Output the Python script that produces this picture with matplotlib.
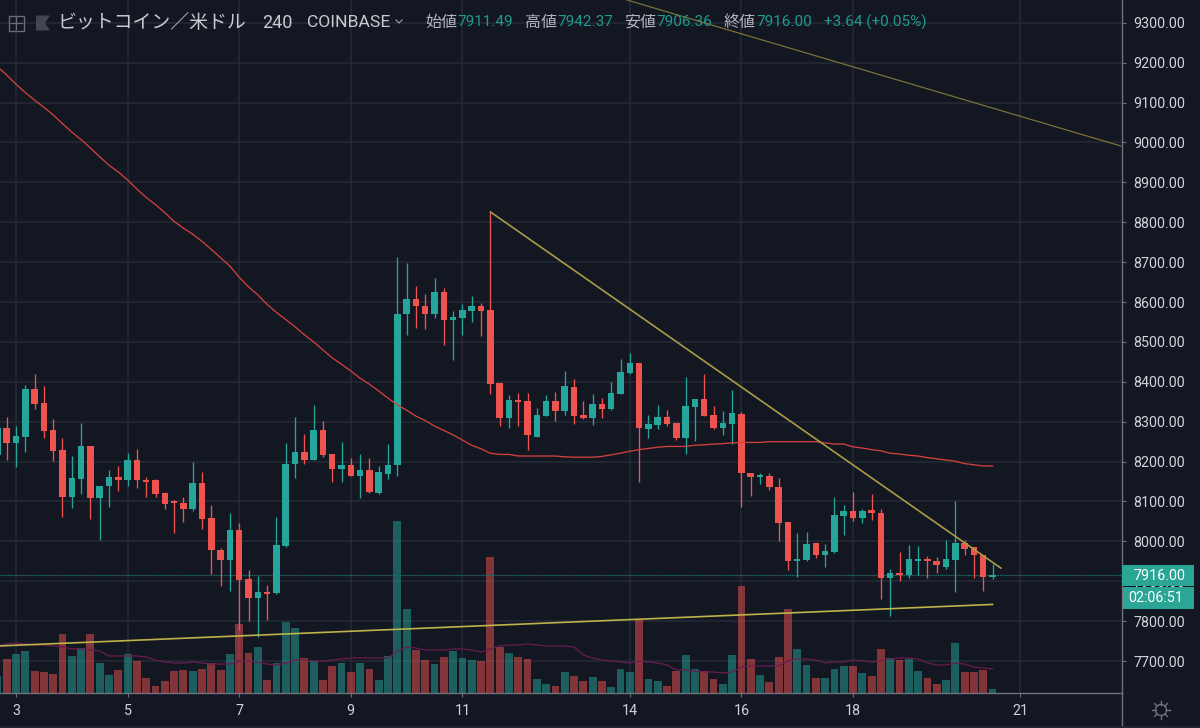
"""
BTC/USD 4h candle chart, dark TradingView style.
"""
import numpy as np
import matplotlib
matplotlib.use("Agg")
import matplotlib.pyplot as plt
from matplotlib.lines import Line2D
from matplotlib.patches import Rectangle

opens = [8216, 8283, 8247, 8262, 8382, 8346, 8280, 8229, 8112, 8157, 8240, 8109,
         8138, 8162, 8153, 8204, 8155, 8153, 8122, 8099, 8095, 8081, 8147, 8059,
         7978, 7954, 8029, 7905, 7858, 7872, 7870, 7988, 8193, 8225, 8205, 8280,
         8219, 8181, 8192, 8165, 8180, 8122, 8170, 8191, 8569, 8607, 8591, 8569,
         8625, 8554, 8560, 8578, 8589, 8581, 8396, 8309, 8354, 8351, 8262, 8315,
         8351, 8328, 8387, 8318, 8309, 8345, 8333, 8369, 8421, 8448, 8282, 8291,
         8312, 8297, 8258, 8337, 8357, 8318, 8285, 8293, 8320, 8172, 8161, 8165,
         8136, 8048, 7950, 7953, 7997, 7967, 7973, 8064, 8076, 8058, 8078, 8072,
         7907, 7922, 7916, 7952, 7955, 7952, 7937, 7953, 7997, 7985, 7967, 7911.49]
highs = [8290, 8311, 8289, 8392, 8419, 8389, 8306, 8258, 8214, 8296, 8240, 8138,
         8180, 8188, 8222, 8231, 8162, 8156, 8123, 8105, 8111, 8198, 8174, 8092,
         7984, 8071, 8045, 7929, 7914, 7890, 8060, 8246, 8311, 8270, 8343, 8301,
         8219, 8250, 8210, 8219, 8210, 8188, 8243, 8712, 8698, 8640, 8619, 8661,
         8634, 8577, 8596, 8616, 8598, 8826, 8396, 8366, 8373, 8373, 8335, 8366,
         8375, 8426, 8408, 8351, 8369, 8360, 8399, 8456, 8471, 8448, 8318, 8342,
         8330, 8297, 8411, 8358, 8420, 8339, 8327, 8380, 8324, 8172, 8172, 8171,
         8160, 8048, 8021, 8023, 7997, 7994, 8112, 8092, 8124, 8081, 8118, 8081,
         7930, 7973, 7991, 7988, 7964, 7960, 8003, 8100, 8003, 7985, 7967, 7942.37]
lows = [8205, 8205, 8187, 8225, 8331, 8259, 8202, 8060, 8084, 8120, 8055, 8003,
        8086, 8127, 8138, 8135, 8112, 8112, 8081, 8021, 8048, 8075, 8030, 7918,
        7888, 7876, 7779, 7801, 7761, 7802, 7869, 7987, 8159, 8195, 8204, 8211,
        8150, 8150, 8163, 8108, 8122, 8120, 8156, 8163, 8517, 8535, 8532, 8560,
        8493, 8454, 8517, 8550, 8515, 8369, 8288, 8285, 8288, 8228, 8261, 8314,
        8303, 8318, 8293, 8306, 8291, 8309, 8330, 8369, 8420, 8149, 8258, 8282,
        8288, 8253, 8219, 8252, 8314, 8282, 8267, 8243, 8085, 8115, 8145, 8128,
        8001, 7929, 7910, 7952, 7958, 7937, 7972, 8016, 8051, 8046, 8054, 7855,
        7813, 7901, 7909, 7915, 7909, 7921, 7931, 7874, 7967, 7907, 7876, 7906.36]
closes = [8283, 8247, 8265, 8382, 8344, 8277, 8226, 8112, 8159, 8240, 8109, 8138,
          8162, 8153, 8204, 8153, 8150, 8120, 8093, 8097, 8081, 8147, 8057, 7979,
          7954, 8029, 7904, 7858, 7872, 7867, 7990, 8195, 8225, 8205, 8280, 8216,
          8181, 8192, 8165, 8180, 8123, 8174, 8192, 8569, 8607, 8590, 8569, 8625,
          8554, 8562, 8580, 8589, 8578, 8394, 8309, 8354, 8349, 8267, 8318, 8351,
          8328, 8390, 8315, 8309, 8345, 8333, 8372, 8424, 8448, 8283, 8293, 8312,
          8293, 8258, 8339, 8357, 8315, 8285, 8297, 8321, 8171, 8161, 8166, 8136,
          8046, 7950, 7955, 7994, 7967, 7975, 8067, 8076, 8058, 8076, 8070, 7907,
          7922, 7916, 7955, 7955, 7950, 7940, 7955, 7997, 7982, 7965, 7910, 7916.00]
volumes = [17, 34, 39, 42, 22, 21, 19, 59, 37, 45, 59, 30, 18, 23, 39, 32, 15, 7,
           12, 22, 23, 22, 24, 30, 23, 39, 69, 40, 46, 13, 30, 71, 65, 35, 32, 13,
           27, 30, 21, 30, 24, 13, 37, 172, 84, 43, 33, 29, 36, 42, 35, 33, 32, 136,
           46, 40, 36, 34, 14, 9, 7, 21, 17, 12, 16, 12, 6, 24, 21, 74, 14, 12,
           7, 22, 38, 24, 22, 14, 9, 38, 107, 34, 18, 11, 36, 84, 44, 28, 15, 15,
           24, 27, 27, 20, 17, 44, 35, 33, 34, 22, 15, 9, 13, 50, 21, 21, 23, 4]
volume_ma = [47, 49, 50, 49, 48, 48, 47, 46, 44, 44, 43, 42, 37, 37, 37, 37, 36, 33,
             31, 30, 30, 31, 30, 29, 29, 29, 32, 32, 31, 29, 28, 30, 33, 33, 32, 32,
             33, 34, 35, 35, 35, 35, 35, 42, 46, 45, 43, 43, 43, 44, 44, 43, 41, 44,
             47, 48, 48, 49, 48, 47, 47, 47, 46, 38, 35, 33, 32, 31, 30, 32, 31, 30,
             28, 23, 23, 22, 21, 21, 20, 21, 26, 27, 27, 27, 27, 32, 34, 34, 33, 30,
             31, 31, 33, 32, 31, 32, 34, 35, 35, 34, 30, 28, 28, 30, 29, 26, 25, 24]
price_ma = [9190, 9169, 9146, 9125, 9106, 9088, 9069, 9047, 9026, 9007, 8986, 8964,
            8943, 8926, 8906, 8883, 8862, 8844, 8824, 8802, 8785, 8770, 8752, 8732,
            8711, 8690, 8662, 8638, 8618, 8594, 8574, 8556, 8538, 8518, 8500, 8480,
            8460, 8444, 8427, 8409, 8394, 8377, 8359, 8342, 8329, 8314, 8303, 8289,
            8278, 8267, 8254, 8241, 8232, 8221, 8218, 8218, 8214, 8214, 8214, 8214,
            8214, 8212, 8211, 8211, 8211, 8213, 8217, 8221, 8226, 8230, 8233, 8236,
            8238, 8238, 8238, 8241, 8242, 8244, 8245, 8247, 8248, 8248, 8248, 8250,
            8250, 8250, 8250, 8250, 8250, 8247, 8244, 8244, 8237, 8234, 8230, 8227,
            8221, 8219, 8216, 8214, 8210, 8207, 8204, 8201, 8195, 8192, 8189, 8189]
bar_index = np.arange(-2, 106)

x_ticks = [0, 12, 24, 36, 48, 66, 78, 90, 108]
x_labels = ["3", "5", "7", "9", "11", "14", "16", "18", "21"]
y_ticks = list(range(7700, 9400, 100))

falling_line = ([51, 105.9], [8826, 7933])
support_line = ([-1.72, 105], [7738, 7842])
upper_line = ([65.7, 118.8], [9357, 8991])
last_price = 7916.00

BG = "#131722"
GRID = "#262a36"
UP = "#26a69a"
DOWN = "#ef5350"
AXIS = "#6f727c"
LABEL = "#d1d4dc"

W, H = 1200, 728
AX_RIGHT, AX_BOTTOM = 1122, 693
pos = [0, (H - AX_BOTTOM) / H, AX_RIGHT / W, AX_BOTTOM / H]


def fx(px):
    return px / W


def fy(py):
    return 1 - py / H


plt.rcParams["font.family"] = ["Roboto", "Noto Sans CJK JP", "DejaVu Sans"]

fig = plt.figure(figsize=(12, 7.28), dpi=100, facecolor=BG)

# base axes: background, grid and tick labels
ax_grid = fig.add_axes(pos, facecolor=BG, zorder=1)
ax_grid.set_xlim(-1.72, 118.92)
ax_grid.set_ylim(7620, 9357)
ax_grid.set_xticks(x_ticks, x_labels)
ax_grid.set_yticks(y_ticks, [f"{v:.2f}" for v in y_ticks])
ax_grid.yaxis.tick_right()
ax_grid.grid(True, color=GRID, linewidth=1.1)
ax_grid.set_axisbelow(True)
ax_grid.tick_params(axis="both", colors=AXIS, length=3, width=0.8, labelcolor=LABEL, labelsize=10.3)
ax_grid.tick_params(axis="y", pad=5)
ax_grid.tick_params(axis="x", pad=5)
for side, spine in ax_grid.spines.items():
    spine.set_visible(side in ("right", "bottom"))
    spine.set_color(AXIS)
    spine.set_linewidth(1.0)
fig.add_artist(Line2D([fx(AX_RIGHT), fx(AX_RIGHT)], [fy(AX_BOTTOM), fy(725)], color=AXIS, linewidth=1.0))
fig.add_artist(Line2D([0, 1], [fy(726.5), fy(726.5)], color="#232733", linewidth=1.4))

# volume pane sits under the candles
ax_vol = fig.add_axes(pos, sharex=ax_grid, zorder=2)
ax_vol.patch.set_visible(False)
ax_vol.set_ylim(0, AX_BOTTOM)
ax_vol.axis("off")
vol_colors = [UP if c >= o else DOWN for o, c in zip(opens, closes)]
ax_vol.bar(bar_index, volumes, width=0.84, color=vol_colors, alpha=0.5, linewidth=0)
ax_vol.plot(bar_index, volume_ma, color="#6b1b50", linewidth=0.9)

# candles and drawings
ax = fig.add_axes(pos, sharex=ax_grid, sharey=ax_grid, zorder=3)
ax.patch.set_visible(False)
ax.axis("off")
for i, o, h, l, c in zip(bar_index, opens, highs, lows, closes):
    color = UP if c >= o else DOWN
    ax.vlines(i, l, h, color=color, linewidth=0.95, zorder=3)
    ax.bar(i, max(abs(c - o), 3), bottom=min(o, c), width=0.7, color=color, linewidth=0, zorder=4)

ax.plot(bar_index, price_ma, color="#d0413c", linewidth=0.95, zorder=5)
ax.plot(*falling_line, color="#a89c45", linewidth=1.2, zorder=6)
ax.plot(*support_line, color="#bdb24b", linewidth=1.2, zorder=6)
ax.plot(*upper_line, color="#7a7238", linewidth=0.9, zorder=6)
ax.axhline(last_price, color="#1f6a68", linestyle=(0, (1, 0.5)), linewidth=0.9, zorder=2)

# price tags on the right axis
fig.add_artist(Rectangle((fx(1122), fy(586)), 72 / W, 21 / H, transform=fig.transFigure,
                         facecolor="#2aa596", edgecolor="none", zorder=10))
fig.add_artist(Rectangle((fx(1123), fy(609)), 71 / W, 22 / H, transform=fig.transFigure,
                         facecolor="#2aa596", edgecolor="none", zorder=10))
fig.text(fx(1134), fy(575.5), f"{last_price:.2f}", color="#ffffff", fontsize=10.3,
         va="center", ha="left", zorder=11)
fig.text(fx(1128), fy(598), "02:06:51", color="#ffffff", fontsize=10.3,
         va="center", ha="left", zorder=11)

# header
fig.add_artist(Rectangle((fx(8.5), fy(31)), 15 / W, 15 / H, transform=fig.transFigure,
                         facecolor="none", edgecolor="#6a6d78", linewidth=1, zorder=10))
fig.add_artist(Line2D([fx(16), fx(16)], [fy(17), fy(29)], color="#6a6d78", linewidth=0.9, zorder=10))
fig.add_artist(Line2D([fx(10.5), fx(22)], [fy(23), fy(23)], color="#6a6d78", linewidth=0.9, zorder=10))
fig.add_artist(plt.Polygon([(fx(36), fy(15.5)), (fx(50), fy(15.5)), (fx(45), fy(23)),
                            (fx(50), fy(30.5)), (fx(36), fy(30.5))],
                           transform=fig.transFigure, facecolor="#434651", edgecolor="none", zorder=10))

HEAD_Y = fy(22.5)
fig.text(fx(57), HEAD_Y, "ビットコイン／米ドル", color="#c8cad1", fontsize=13.6, va="center", zorder=11)
fig.text(fx(262), HEAD_Y, "240", color="#c8cad1", fontsize=13, va="center", zorder=11)
fig.text(fx(307), HEAD_Y, "COINBASE", color="#c8cad1", fontsize=12.6, va="center", zorder=11)
fig.add_artist(Line2D([fx(396), fx(399), fx(402)], [fy(20), fy(23), fy(20)], color="#9598a1",
                      linewidth=0.9, zorder=10))

ohlc_names = ["始値", "高値", "安値", "終値"]
ohlc_values = ["7911.49", "7942.37", "7906.36", "7916.00"]
ohlc_x = [425, 525, 624, 724]
for name, value, px in zip(ohlc_names, ohlc_values, ohlc_x):
    fig.text(fx(px), HEAD_Y, name, color="#b2b5be", fontsize=11.5, va="center", zorder=11)
    fig.text(fx(px + 32), HEAD_Y, value, color="#1f9a8e", fontsize=11, va="center", zorder=11)
fig.text(fx(824), HEAD_Y, "+3.64 (+0.05%)", color="#1f9a8e", fontsize=11, va="center", zorder=11)

# settings gear
gear_x, gear_y = 1161, 710
theta = np.linspace(0, 2 * np.pi, 60)
fig.add_artist(Line2D(fx(gear_x + 5.5 * np.cos(theta)), fy(gear_y + 5.5 * np.sin(theta)),
                      color=AXIS, linewidth=1, zorder=10))
for a in np.arange(0, 2 * np.pi, np.pi / 4):
    fig.add_artist(Line2D(fx(gear_x + np.array([5.5, 9]) * np.cos(a)),
                          fy(gear_y + np.array([5.5, 9]) * np.sin(a)),
                          color=AXIS, linewidth=1, zorder=10))

fig.savefig("out.png", dpi=100, facecolor=BG)
